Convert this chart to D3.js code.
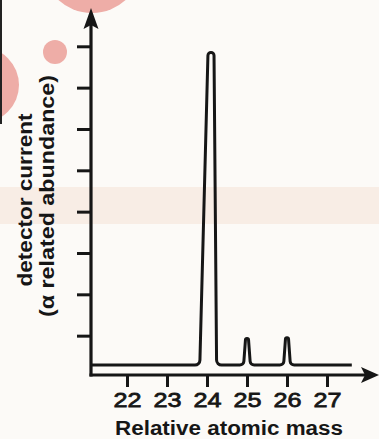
<!DOCTYPE html>
<html>
<head>
<meta charset="utf-8">
<script src="https://cdn.jsdelivr.net/npm/d3@7"></script>
<style>
  html, body { margin: 0; padding: 0; background: #fcfaf7; }
  svg { display: block; }
  text { font-family: "Liberation Sans", Arial, sans-serif; fill: #161616; }
</style>
</head>
<body>
<svg id="chart" width="379" height="439"></svg>
<script>
// values
const massTicks = [22, 23, 24, 25, 26, 27];
const currentTicks = [1, 2, 3, 4, 5, 6, 7, 8];
const peakMass = [24.1, 25, 26];
const peakHeight = [7.85, 0.93, 0.95];
const baselineLevel = 0.29;
const traceEnd = 27.62;

const width = 379, height = 439;
const ink = '#161616';

const svg = d3.select('#chart');

const x = d3.scaleLinear().domain([21.1, 28.3]).range([91, 379]);
const y = d3.scaleLinear().domain([0, 8]).range([377, 46.3]);

// scan marks: pink blobs and faded band
svg.append('rect').attr('x', 0).attr('y', 187).attr('width', width).attr('height', 37)
  .attr('fill', 'rgb(238, 210, 190)').attr('opacity', 0.3);
svg.append('circle').attr('cx', 92).attr('cy', -37).attr('r', 50).attr('fill', '#eeada7');
svg.append('circle').attr('cx', 55).attr('cy', 52).attr('r', 12).attr('fill', '#eeada7');
svg.append('circle').attr('cx', -19).attr('cy', 85).attr('r', 38).attr('fill', '#eeada7');
svg.append('rect').attr('x', 0).attr('y', 0).attr('width', 2).attr('height', 124).attr('fill', '#222');

// y axis ticks
svg.append('g')
  .attr('transform', `translate(${x(21.1)},0)`)
  .call(d3.axisLeft(y).tickValues(currentTicks).tickSize(14).tickFormat(''))
  .call(g => g.select('.domain').remove())
  .call(g => g.selectAll('line').attr('stroke', ink).attr('stroke-width', 3));

// x axis ticks and labels
const xAxisY = 375;
const xg = svg.append('g')
  .attr('transform', `translate(0,${xAxisY})`)
  .call(d3.axisBottom(x).tickValues(massTicks).tickSize(12).tickFormat(d3.format('d')))
  .call(g => g.select('.domain').remove())
  .call(g => g.selectAll('line').attr('stroke', ink).attr('stroke-width', 3));
xg.selectAll('text')
  .attr('y', 32).attr('dy', 0)
  .attr('font-size', 21)
  .attr('textLength', 28).attr('lengthAdjust', 'spacingAndGlyphs')
  .attr('fill', ink).attr('stroke', ink).attr('stroke-width', 0.8);

// axis lines with arrow heads
svg.append('line')
  .attr('x1', x(21.1)).attr('y1', xAxisY + 1.5).attr('x2', x(21.1)).attr('y2', 24)
  .attr('stroke', ink).attr('stroke-width', 3.2);
svg.append('path')
  .attr('d', `M${x(21.1)},8 L${x(21.1) - 7.5},29 L${x(21.1)},25 L${x(21.1) + 7.5},29 Z`)
  .attr('fill', ink);
svg.append('line')
  .attr('x1', x(21.1) - 1.5).attr('y1', xAxisY).attr('x2', 366).attr('y2', xAxisY)
  .attr('stroke', ink).attr('stroke-width', 3.2);
svg.append('path')
  .attr('d', `M379,${xAxisY} L361,${xAxisY - 8} L365,${xAxisY} L361,${xAxisY + 8} Z`)
  .attr('fill', ink);

// detector trace: baseline with narrow rounded peaks
const pts = [[x(21.1), y(baselineLevel)]];
const radii = [0];
peakMass.forEach((m, i) => {
  const big = i === 0;
  const top = big ? 0.075 : 0.036;
  const left = big ? 0.28 : 0.085;
  const right = big ? 0.14 : 0.085;
  pts.push([x(m - left), y(baselineLevel)]);     radii.push(big ? 5 : 4);
  pts.push([x(m - top), y(peakHeight[i])]);      radii.push(x(m + top) - x(m));
  pts.push([x(m + top), y(peakHeight[i])]);      radii.push(x(m + top) - x(m));
  pts.push([x(m + right), y(baselineLevel)]);    radii.push(big ? 5 : 4);
});
pts.push([x(traceEnd), y(baselineLevel)]);

function roundedLine(points, r) {
  const p = d3.path();
  p.moveTo(points[0][0], points[0][1]);
  for (let i = 1; i < points.length - 1; i++) {
    p.arcTo(points[i][0], points[i][1], points[i + 1][0], points[i + 1][1], r[i]);
  }
  const last = points[points.length - 1];
  p.lineTo(last[0], last[1]);
  return p.toString();
}

svg.append('path')
  .attr('d', roundedLine(pts, radii))
  .attr('fill', 'none')
  .attr('stroke', ink)
  .attr('stroke-width', 3)
  .attr('stroke-linejoin', 'round');

// titles
svg.append('text')
  .attr('x', 229).attr('y', 435)
  .attr('text-anchor', 'middle')
  .attr('font-size', 20).attr('font-weight', 'bold')
  .attr('textLength', 228).attr('lengthAdjust', 'spacingAndGlyphs')
  .text('Relative atomic mass');

svg.append('text')
  .attr('transform', 'translate(32,200) rotate(-90)')
  .attr('text-anchor', 'middle')
  .attr('font-size', 20).attr('font-weight', 'bold')
  .attr('textLength', 173).attr('lengthAdjust', 'spacingAndGlyphs')
  .text('detector current');

svg.append('text')
  .attr('transform', 'translate(54,196) rotate(-90)')
  .attr('text-anchor', 'middle')
  .attr('font-size', 20).attr('font-weight', 'bold')
  .attr('textLength', 242).attr('lengthAdjust', 'spacingAndGlyphs')
  .text('(α related abundance)');
</script>
</body>
</html>
